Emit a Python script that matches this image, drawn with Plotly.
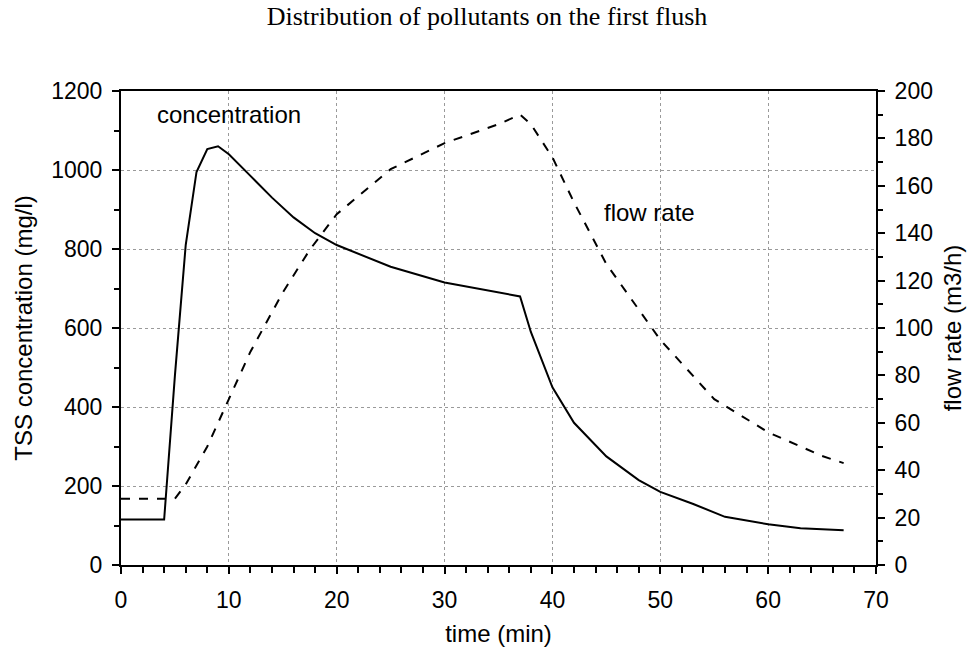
import plotly.graph_objects as go

time_conc = [0, 4, 5, 6, 7, 8, 9, 10, 12, 14, 16, 18, 20, 25, 30, 35, 37, 38, 40, 42, 45, 48, 50, 53, 56, 60, 63, 67]
tss_conc = [115, 115, 480, 810, 995, 1053, 1060, 1040, 985, 930, 880, 840, 810, 755, 715, 690, 680, 590, 450, 360, 275, 215, 185, 155, 122, 103, 93, 88]

time_flow = [0, 5, 6, 8, 10, 12, 15, 17.5, 20, 25, 30, 35, 37, 38, 40, 42, 45, 50, 55, 60, 65, 67]
flow_rate = [28, 28, 34, 50, 70, 90, 115, 133, 148, 167, 178, 186, 190, 186, 172, 153, 127, 95, 70, 56, 46, 43]

SANS = "Liberation Sans, Arial"
tickfont = dict(family=SANS, size=23, color="black")
labfont = dict(family=SANS, size=24, color="black")

fig = go.Figure()
fig.add_trace(go.Scatter(x=time_conc, y=tss_conc, mode="lines",
                         line=dict(color="black", width=2), yaxis="y"))
fig.add_trace(go.Scatter(x=time_flow, y=flow_rate, mode="lines",
                         line=dict(color="black", width=2, dash="dash"), yaxis="y2"))

fig.update_layout(
    width=974, height=655,
    margin=dict(l=121, r=98, t=91, b=90),
    paper_bgcolor="white", plot_bgcolor="white",
    showlegend=False,
    title=dict(text="Distribution of pollutants on the first flush",
               font=dict(family="Liberation Serif, Times New Roman", size=26, color="black"),
               x=0.5, xanchor="center", y=0.975, yanchor="middle"),
    xaxis=dict(range=[0, 70], dtick=10, tick0=0, showgrid=True, gridcolor="#9a9a9a",
               griddash="dot", gridwidth=1, zeroline=False,
               showline=True, linecolor="black", linewidth=2, mirror=True,
               ticks="outside", ticklen=7, tickwidth=2, tickcolor="black",
               minor=dict(dtick=2, ticks="outside", ticklen=6, tickwidth=2, tickcolor="black", showgrid=False),
               tickfont=tickfont, ticklabelstandoff=6,
               title=dict(text="time (min)", font=labfont, standoff=14)),
    yaxis=dict(range=[0, 1200], dtick=200, tick0=0, showgrid=True, gridcolor="#9a9a9a",
               griddash="dot", gridwidth=1, zeroline=False,
               showline=True, linecolor="black", linewidth=2,
               ticks="outside", ticklen=7, tickwidth=2, tickcolor="black",
               minor=dict(dtick=100, ticks="outside", ticklen=5, tickwidth=2, tickcolor="black", showgrid=False),
               tickfont=tickfont, ticklabelstandoff=5,
               title=dict(text="TSS concentration (mg/l)", font=labfont, standoff=12)),
    yaxis2=dict(range=[0, 200], dtick=20, tick0=0, overlaying="y", side="right",
                showgrid=False, zeroline=False,
                showline=True, linecolor="black", linewidth=2,
                ticks="outside", ticklen=7, tickwidth=2, tickcolor="black",
                minor=dict(dtick=10, ticks="outside", ticklen=5, tickwidth=2, tickcolor="black", showgrid=False),
                tickfont=tickfont, ticklabelstandoff=5,
                title=dict(text="flow rate (m3/h)", font=labfont, standoff=12)),
    annotations=[
        dict(x=10, y=1140, xref="x", yref="y", text="concentration", showarrow=False,
             font=labfont),
        dict(x=49, y=893, xref="x", yref="y", text="flow rate", showarrow=False,
             font=labfont),
    ],
)
fig.write_html("out.html")
